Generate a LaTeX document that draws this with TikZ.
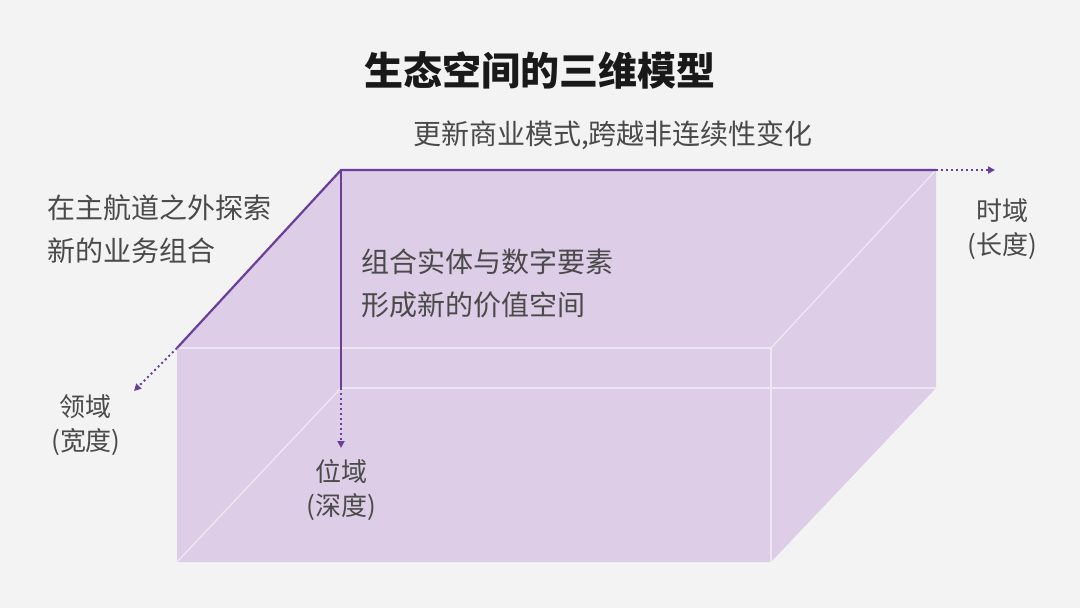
\documentclass[tikz,border=0pt]{standalone}
\usepackage{fontspec}
\newfontfamily\cjk{Noto Sans CJK SC}
\usetikzlibrary{arrows.meta}
\definecolor{bgc}{HTML}{F3F3F3}
\definecolor{boxfill}{HTML}{DDCDE7}
\definecolor{edgec}{HTML}{EFE6F3}
\definecolor{purp}{HTML}{6A3E9B}
\definecolor{txt}{HTML}{4A4A4A}
\tikzset{
  lbl/.style={font=\cjk\fontsize{26}{34}\selectfont, text=txt, inner sep=0pt},
  toplbl/.style={font=\cjk\fontsize{28}{34}\selectfont, text=txt, inner sep=0pt},
  para/.style={font=\cjk\fontsize{28}{43}\selectfont, text=txt, inner sep=0pt, align=left, anchor=north west},
  inner edge/.style={draw=edgec, line width=1.4pt},
  axis/.style={draw=purp, line width=2.2pt},
  axisdot/.style={draw=purp, line width=2pt, dash pattern=on 2pt off 3pt, -{Triangle[length=7pt,width=7pt]}},
}
\begin{document}
\begin{tikzpicture}[x=1pt,y=-1pt]
\fill[bgc] (0,0) rectangle (1080,608);
\useasboundingbox (0,0) rectangle (1080,608);
% corners
\coordinate (BTL) at (341,170);
\coordinate (BTR) at (936,170);
\coordinate (BBL) at (341,388);
\coordinate (BBR) at (936,388);
\coordinate (FTL) at (177,348);
\coordinate (FTR) at (771,348);
\coordinate (FBL) at (177,562);
\coordinate (FBR) at (771,562);
% box silhouette
\fill[boxfill] (BTL) -- (BTR) -- (BBR) -- (FBR) -- (FBL) -- (FTL) -- cycle;
% light inner edges
\draw[inner edge] (FTL) -- (FTR) -- (FBR);
\draw[inner edge] (FTR) -- (BTR);
\draw[inner edge] (BBL) -- (BBR);
\draw[inner edge] (FBL) -- (BBL);
% axes
\draw[axis] (FTL) -- (BTL) -- (BTR);
\draw[axis] (BTL) -- (BBL);
\coordinate (endT) at (995,170);
\coordinate (endW) at (134,391);
\coordinate (endD) at (341,448);
\draw[axisdot] (BTR) -- (endT);
\draw[axisdot] (FTL) -- (endW);
\draw[axisdot] (BBL) -- (endD);
% texts
\node[font=\cjk\bfseries\fontsize{39}{44}\selectfont, text=black!90, inner sep=0pt] (title) at (540,70) {生态空间的三维模型};
\node[toplbl] (top) at (613,135) {更新商业模式,跨越非连续性变化};
\node[para] (left) at (47,194) {在主航道之外探索\\新的业务组合};
\node[para] (mid) at (361,249) {组合实体与数字要素\\形成新的价值空间};
\node[lbl, align=center] (time) at (1002,229) {时域\\(长度)};
\node[lbl, align=center] (width) at (86,425) {领域\\(宽度)};
\node[lbl, align=center] (depth) at (341,490) {位域\\(深度)};
\end{tikzpicture}
\end{document}
